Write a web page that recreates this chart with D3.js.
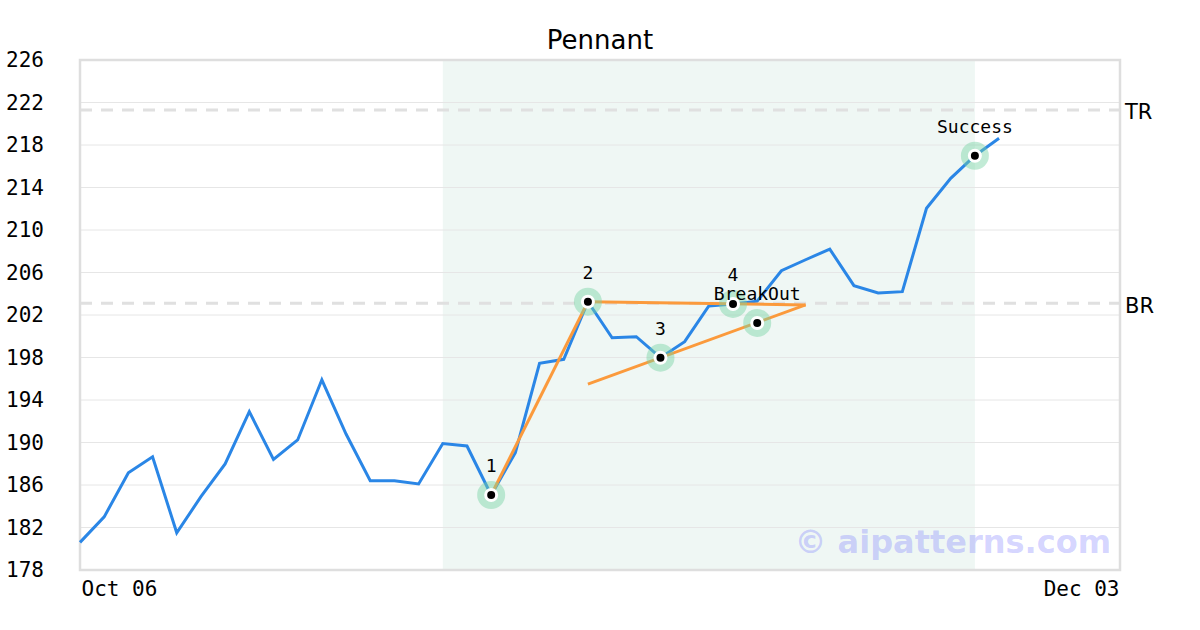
<!DOCTYPE html>
<html><head><meta charset="utf-8">
<script src="https://cdn.jsdelivr.net/npm/d3@7"></script>
<style>body{margin:0;background:#fff}svg{display:block}</style>
</head><body><svg id="c" width="1200" height="630"></svg>
<script>
const title = "Pennant";
const prices = [180.6,183.0,187.16,188.66,181.5,184.9,187.98,192.9,188.4,190.24,195.9,190.8,186.4,186.4,186.1,189.9,189.67,185.06,189.04,197.45,197.83,203.25,199.86,199.96,197.98,199.49,202.85,203.04,203.3,206.17,207.2,208.2,204.76,204.07,204.2,212.04,214.86,216.99,218.63];
const xDomainMax = 43;
const xTickIdx = [0, 43];
const xTickLabels = ["Oct 06", "Dec 03"];
const yTicks = [178,182,186,190,194,198,202,206,210,214,218,222,226];
const shadeRange = [15, 37];
const levelNames = ["TR", "BR"];
const levelValues = [221.3, 203.1];
const markerIdx = [17, 21, 24, 27, 28, 37];
const markerVals = [185.06, 203.25, 197.98, 203.04, 201.25, 216.99];
const markerLabels = ["1", "2", "3", "4", "BreakOut", "Success"];
const flagpole = [[17, 185.06], [21, 203.25]];
const upperTrend = [[21, 203.25], [30, 202.95]];
const lowerTrend = [[21, 195.5], [30, 202.95]];
const watermark = "© aipatterns.com";

const svg = d3.select("#c");
const L = 80, R = 1120, T = 60, B = 570;
const x = d3.scaleLinear().domain([0, xDomainMax]).range([L, R]);
const y = d3.scaleLinear().domain([178, 226]).range([B, T]);
const mono = "'DejaVu Sans Mono', monospace";
const sans = "'DejaVu Sans', sans-serif";

// shaded pattern region
svg.append("rect").attr("x", x(shadeRange[0])).attr("y", T)
  .attr("width", x(shadeRange[1]) - x(shadeRange[0])).attr("height", B - T)
  .attr("fill", "#eff7f4");

// gridlines
svg.append("g").selectAll("line").data(yTicks).join("line")
  .attr("x1", L).attr("x2", R).attr("y1", d => y(d)).attr("y2", d => y(d))
  .attr("stroke", "#e6e6e6").attr("stroke-width", 1);

// level lines
svg.append("g").selectAll("line").data(levelValues).join("line")
  .attr("x1", L).attr("x2", R).attr("y1", d => y(d)).attr("y2", d => y(d))
  .attr("stroke", "#e0e0e0").attr("stroke-width", 3).attr("stroke-dasharray", "12,9");
svg.append("g").selectAll("text").data(levelValues).join("text")
  .attr("x", R + 5).attr("y", d => y(d)).attr("dy", "0.45em")
  .attr("font-family", sans).attr("font-size", 21).attr("fill", "#000")
  .text((d, i) => levelNames[i]);

// frame
svg.append("rect").attr("x", L).attr("y", T).attr("width", R - L).attr("height", B - T)
  .attr("fill", "none").attr("stroke", "#dedede").attr("stroke-width", 2.5);

// y axis labels
const yAxis = d3.axisLeft(y).tickValues(yTicks).tickSize(0).tickPadding(0);
const yg = svg.append("g").attr("transform", `translate(${44},0)`).call(yAxis);
yg.select(".domain").remove();
yg.selectAll("text").attr("font-family", mono).attr("font-size", 21).attr("fill", "#000");

// x axis labels
const xAxis = d3.axisBottom(x).tickValues(xTickIdx).tickFormat((d, i) => xTickLabels[i]).tickSize(0).tickPadding(0);
const xg = svg.append("g").attr("transform", `translate(0,${B + 11})`).call(xAxis);
xg.select(".domain").remove();
xg.selectAll("text").attr("font-family", mono).attr("font-size", 21).attr("fill", "#000")
  .attr("text-anchor", (d, i) => i === 0 ? "start" : "end")
  .attr("dx", (d, i) => i === 0 ? 1 : -1);

// price line
const line = d3.line().x((d, i) => x(i)).y(d => y(d));
svg.append("path").datum(prices).attr("d", line).attr("fill", "none")
  .attr("stroke", "#2a86e6").attr("stroke-width", 3).attr("stroke-linejoin", "miter");

// trend lines
const tl = d3.line().x(d => x(d[0])).y(d => y(d[1]));
[flagpole, upperTrend, lowerTrend].forEach(seg => {
  svg.append("path").datum(seg).attr("d", tl).attr("fill", "none")
    .attr("stroke", "#fb9a3c").attr("stroke-width", 3);
});

// markers
const mg = svg.append("g").selectAll("g").data(markerIdx).join("g")
  .attr("transform", (d, i) => `translate(${x(d)},${y(markerVals[i])})`);
mg.append("circle").attr("r", 14).attr("fill", "rgba(120,210,165,0.45)");
mg.append("circle").attr("r", 7).attr("fill", "#fff");
mg.append("circle").attr("r", 4).attr("fill", "#000");
mg.append("text").attr("y", -23).attr("text-anchor", "middle")
  .attr("font-family", mono).attr("font-size", 18).attr("fill", "#000")
  .text((d, i) => markerLabels[i]);

// title
svg.append("text").attr("x", 600).attr("y", 49).attr("text-anchor", "middle")
  .attr("font-family", sans).attr("font-size", 26).attr("fill", "#000").text(title);

// watermark
svg.append("text").attr("x", 1111).attr("y", 553).attr("text-anchor", "end")
  .attr("font-family", sans).attr("font-weight", "bold").attr("font-size", 32)
  .attr("fill", "rgba(110,110,255,0.3)").text(watermark);
</script></body></html>
